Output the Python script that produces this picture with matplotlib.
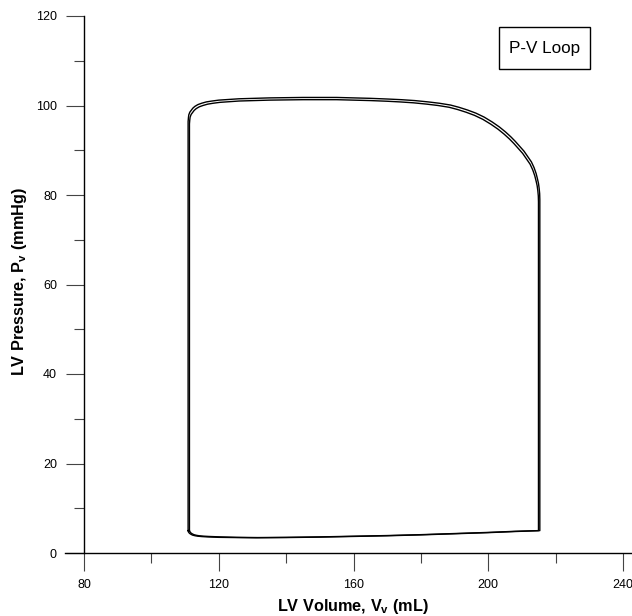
import matplotlib
matplotlib.use('Agg')
from matplotlib import pyplot as plt
from matplotlib.patches import Rectangle
from matplotlib.ticker import MultipleLocator

plt.rcParams['font.family'] = ['Liberation Sans', 'DejaVu Sans']
plt.rcParams['mathtext.fontset'] = 'custom'
plt.rcParams['mathtext.rm'] = 'Liberation Sans'
plt.rcParams['mathtext.bf'] = 'Liberation Sans:bold'

# loop 1 (outer trace): filling -> isovolumic contraction -> ejection -> relaxation
vol_a = [110.9, 111.0, 111.3, 111.7, 112.2, 113.0, 113.8, 115.0, 116.5,
         120, 125, 131, 140, 150, 160, 170, 180, 190, 200, 208, 215.3,
         215.3, 215.25, 215.1, 214.9, 214.6, 214.2, 213.6, 212.8, 211.7, 210.6,
         209.3, 208.0, 206.7, 205.1, 203.3, 201.2, 198.8, 196.3, 193.8, 191.3,
         188.8, 185.5, 182.2, 178.2, 174.2, 170, 165, 155, 145, 135,
         126, 120, 118, 116.3, 114.9, 113.8, 112.9, 112.3, 111.8, 111.4,
         111.1, 111.0, 110.9, 110.9, 110.9]
pres_a = [5.0, 4.7, 4.4, 4.2, 4.0, 3.85, 3.75, 3.67, 3.6,
          3.5, 3.45, 3.4, 3.45, 3.55, 3.7, 3.85, 4.05, 4.3, 4.55, 4.8, 5.0,
          79.0, 80.3, 81.5, 82.6, 83.6, 84.8, 86.1, 87.4, 88.6, 89.8,
          90.9, 92.0, 93.0, 94.1, 95.2, 96.3, 97.4, 98.3, 99.0, 99.6,
          100.1, 100.5, 100.8, 101.1, 101.3, 101.45, 101.6, 101.8, 101.8, 101.7,
          101.5, 101.2, 101.0, 100.8, 100.5, 100.2, 99.8, 99.4, 98.9, 98.5,
          97.9, 97.3, 96.4, 95.5, 5.0]

# loop 2 (inner trace)
vol_b = [111.3, 111.4, 111.7, 112.1, 112.6, 113.4, 114.2, 115.4, 117.0,
         120.5, 125.5, 131.5, 140, 150, 160, 170, 180, 190, 200, 208, 214.9,
         214.9, 214.85, 214.7, 214.5, 214.2, 213.8, 213.2, 212.4, 211.3, 210.2,
         208.9, 207.6, 206.3, 204.7, 202.9, 200.8, 198.4, 195.9, 193.4, 190.9,
         188.4, 185.1, 181.8, 177.8, 173.8, 170, 165, 155, 145, 135,
         126, 120.3, 118.3, 116.7, 115.3, 114.2, 113.3, 112.7, 112.2, 111.8,
         111.5, 111.4, 111.3, 111.3, 111.3]
pres_b = [5.0, 4.8, 4.5, 4.3, 4.1, 3.95, 3.85, 3.77, 3.7,
          3.6, 3.5, 3.45, 3.5, 3.6, 3.75, 3.9, 4.1, 4.35, 4.6, 4.85, 5.0,
          78.5, 79.8, 81.0, 82.1, 83.1, 84.3, 85.6, 86.9, 88.1, 89.3,
          90.4, 91.5, 92.5, 93.6, 94.7, 95.8, 96.9, 97.8, 98.5, 99.1,
          99.6, 100.0, 100.3, 100.6, 100.8, 100.95, 101.1, 101.3, 101.3, 101.2,
          101.0, 100.7, 100.5, 100.3, 100.0, 99.7, 99.3, 98.9, 98.4, 98.0,
          97.4, 96.8, 95.9, 95.0, 5.0]

x_ticks = [80, 120, 160, 200, 240]
y_ticks = [0, 20, 40, 60, 80, 100, 120]

W, H = 632, 616
fig = plt.figure(figsize=(W / 100, H / 100), dpi=100)
ax = fig.add_axes([65 / W, (H - 553) / H, (W - 65) / W, (553 - 16) / H])

ax.plot(vol_a, pres_a, color='black', lw=1.0, solid_joinstyle='round')
ax.plot(vol_b, pres_b, color='black', lw=1.0, solid_joinstyle='round')

ax.set_xlim(74.36, 242.66)
ax.set_ylim(0, 120)

ax.spines['top'].set_visible(False)
ax.spines['right'].set_visible(False)
ax.spines['left'].set_position(('data', 80))
ax.spines['left'].set_bounds(0, 120)
for s in ['left', 'bottom']:
    ax.spines[s].set_linewidth(1.0)
    ax.spines[s].set_color('black')

ax.set_xticks(x_ticks)
ax.set_yticks(y_ticks)
ax.xaxis.set_minor_locator(MultipleLocator(20))
ax.yaxis.set_minor_locator(MultipleLocator(10))
ax.tick_params(which='major', direction='out', length=13, width=0.8, color='#444444',
               labelsize=9)
ax.tick_params(which='minor', direction='out', length=7.2, width=0.8, color='#444444')
ax.tick_params(axis='x', which='major', pad=6)
ax.tick_params(axis='y', which='major', pad=6.5)

fig.text(353 / W, 1 - 606 / H, r'LV Volume, V$_{\mathbf{v}}$ (mL)', fontsize=11.7,
         fontweight='bold', ha='center', va='center')
fig.text(20 / W, 1 - 282 / H, r'LV Pressure, P$_{\mathbf{v}}$ (mmHg)', fontsize=11.7,
         fontweight='bold', ha='center', va='center', rotation=90)

# "P-V Loop" label box
fig.patches.append(Rectangle((499 / W, (H - 69) / H), 91 / W, 42 / H, transform=fig.transFigure,
                             fill=False, edgecolor='black', lw=1.0))
fig.text(544.5 / W, 1 - 48 / H, 'P-V Loop', fontsize=12.3, ha='center', va='center')

plt.savefig('out.png', dpi=100)
